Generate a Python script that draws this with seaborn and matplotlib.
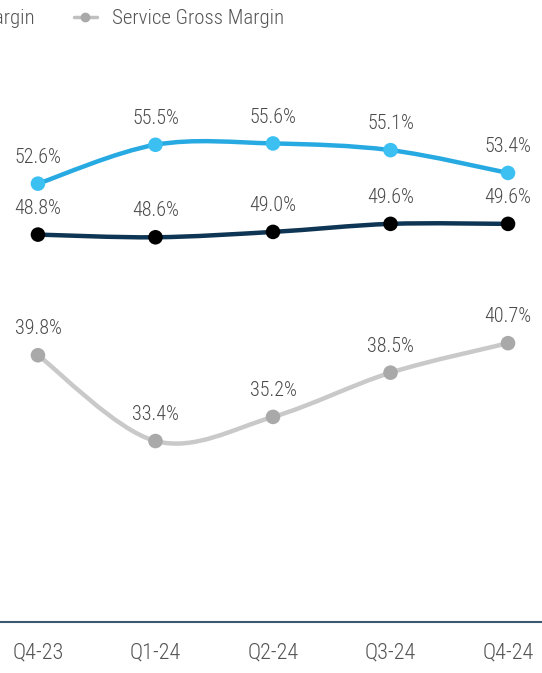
import matplotlib
matplotlib.use("Agg")
import matplotlib.pyplot as plt
from matplotlib.path import Path
from matplotlib.patches import PathPatch
from matplotlib.lines import Line2D
import numpy as np
import pandas as pd
import seaborn as sns

quarters = ["Q4-23", "Q1-24", "Q2-24", "Q3-24", "Q4-24"]
product_margin = [52.6, 55.5, 55.6, 55.1, 53.4]
total_margin = [48.8, 48.6, 49.0, 49.6, 49.6]
service_margin = [39.8, 33.4, 35.2, 38.5, 40.7]

series_names = ["Product Gross Margin", "Total Gross Margin", "Service Gross Margin"]
line_colors = ["#27A9E1", "#0E3553", "#C9C9C9"]
marker_colors = ["#3CC0F2", "#000000", "#A9A9A9"]

sns.set_theme(style="white")
plt.rcParams["font.family"] = ["Roboto Condensed", "DejaVu Sans"]

df = pd.DataFrame({
    "quarter": quarters * 3,
    "pos": list(range(len(quarters))) * 3,
    "margin": product_margin + total_margin + service_margin,
    "series": [n for n in series_names for _ in quarters],
})

fig = plt.figure(figsize=(5.42, 6.73), dpi=100)
ax = fig.add_axes([0.0, 51 / 673, 1.0, 622 / 673])


def smooth_path(xs, ys):
    """Catmull-Rom curve through the points, expressed as cubic Bezier segments."""
    pts = np.column_stack([xs, ys]).astype(float)
    padded = np.vstack([pts[0], pts, pts[-1]])
    verts = [pts[0]]
    codes = [Path.MOVETO]
    for i in range(len(pts) - 1):
        p0, p1, p2, p3 = padded[i], padded[i + 1], padded[i + 2], padded[i + 3]
        c1 = p1 + (p2 - p0) / 6.0
        c2 = p2 - (p3 - p1) / 6.0
        verts += [c1, c2, p2]
        codes += [Path.CURVE4] * 3
    return Path(verts, codes)


for name, lc, mc in zip(series_names, line_colors, marker_colors):
    sub = df[df["series"] == name]
    patch = PathPatch(smooth_path(sub["pos"], sub["margin"]), facecolor="none",
                      edgecolor=lc, lw=3.2, capstyle="round", zorder=2)
    ax.add_patch(patch)
    sns.scatterplot(data=sub, x="pos", y="margin", color=mc, s=110,
                    edgecolor="none", ax=ax, zorder=3, legend=False)
    for x, y in zip(sub["pos"], sub["margin"]):
        ax.annotate(f"{y:.1f}%", (x, y), xytext=(0, 19), textcoords="offset points",
                    ha="center", va="center", fontsize=14.5, color="#4A4A4A",
                    fontweight="light")

ax.set_xlim(-0.323, 4.289)
ax.set_ylim(19.9, 66.3)
ax.set_xticks(range(len(quarters)))
ax.set_xticklabels(quarters)
ax.set_yticks([])
ax.set_xlabel("")
ax.set_ylabel("")
ax.tick_params(axis="x", length=0, pad=15, labelsize=16, labelcolor="#555555")
for lbl in ax.get_xticklabels():
    lbl.set_fontweight("light")
for side in ["top", "left", "right"]:
    ax.spines[side].set_visible(False)
ax.spines["bottom"].set_color("#3C5870")
ax.spines["bottom"].set_linewidth(1.5)

handles = [Line2D([0], [0], color=lc, lw=2.5, marker="o", markersize=6,
                  markerfacecolor=mc, markeredgecolor=mc)
           for lc, mc in zip(line_colors, marker_colors)]
handles[2] = Line2D([0], [0], color="#C0C0C0", lw=2.5, marker="o", markersize=6,
                    markerfacecolor="#A9A9A9", markeredgecolor="#A9A9A9")
fig.legend(handles, series_names, loc="center right", bbox_to_anchor=(284 / 542, 1 - 19 / 673),
           ncol=3, frameon=False, prop={"size": 15, "weight": "light"},
           labelcolor="#555555", borderpad=0, borderaxespad=0, handlelength=1.1,
           handletextpad=0.72, columnspacing=1.9)

fig.savefig("out.png", dpi=100)
